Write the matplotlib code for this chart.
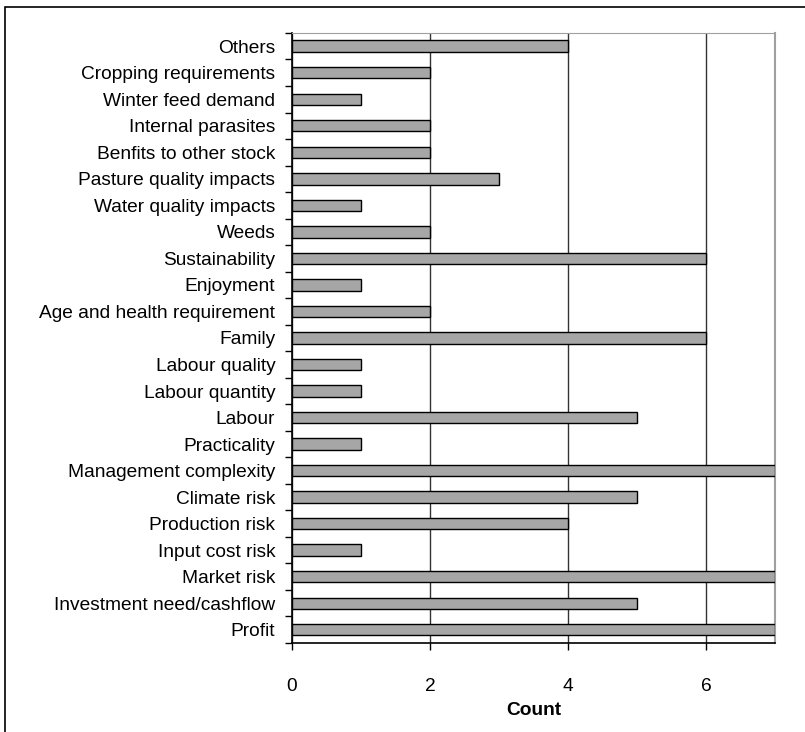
import matplotlib
matplotlib.use("Agg")
import matplotlib.pyplot as plt
from matplotlib.patches import Rectangle
import numpy as np

plt.rcParams['font.family'] = ['Liberation Sans', 'DejaVu Sans']

# categories listed top to bottom
categories = [
    "Others", "Cropping requirements", "Winter feed demand", "Internal parasites",
    "Benfits to other stock", "Pasture quality impacts", "Water quality impacts",
    "Weeds", "Sustainability", "Enjoyment", "Age and health requirement", "Family",
    "Labour quality", "Labour quantity", "Labour", "Practicality",
    "Management complexity", "Climate risk", "Production risk", "Input cost risk",
    "Market risk", "Investment need/cashflow", "Profit",
]
counts = [4, 2, 1, 2, 2, 3, 1, 2, 6, 1, 2, 6, 1, 1, 5, 1, 7, 5, 4, 1, 7, 5, 7]
xticks = [0, 2, 4, 6]


def main():
    fig = plt.figure(figsize=(8.05, 7.32), dpi=100)
    ax = fig.add_axes([0.3627, 0.1216, 0.6, 0.8334])

    n = len(categories)
    y = np.arange(n)[::-1]
    ax.barh(y, counts, height=0.43, color="#a6a6a6", edgecolor="black",
            linewidth=1.0, zorder=3)

    ax.set_xlim(0, 7)
    ax.set_ylim(-0.5, n - 0.5)
    ax.set_xticks(xticks)
    ax.set_xticklabels([str(t) for t in xticks], fontsize=13.8)
    ax.tick_params(axis="x", length=5, width=1, pad=20)
    ax.set_yticks(y)
    ax.set_yticklabels(categories, fontsize=13.8)
    ax.tick_params(axis="y", which="major", length=0, pad=12)
    ax.set_yticks(np.arange(n + 1) - 0.5, minor=True)
    ax.tick_params(axis="y", which="minor", length=5, width=1)

    ax.grid(axis="x", color="#333333", linewidth=1.0, zorder=0)
    ax.spines["top"].set_color("#a0a0a0")
    ax.spines["right"].set_color("#a0a0a0")
    ax.spines["right"].set_linewidth(1.5)
    ax.spines["left"].set_linewidth(1.2)
    ax.spines["bottom"].set_linewidth(1.2)

    ax.set_xlabel("Count", fontsize=13.8, fontweight="bold", labelpad=5)

    # outer border of the chart area
    fig.patches.append(Rectangle((0.0068, -0.02), 1.05, 1.02 - 0.0095,
                                 transform=fig.transFigure, fill=False,
                                 edgecolor="black", linewidth=1.2))

    fig.savefig("out.png", dpi=100)


if __name__ == '__main__':
    main()
